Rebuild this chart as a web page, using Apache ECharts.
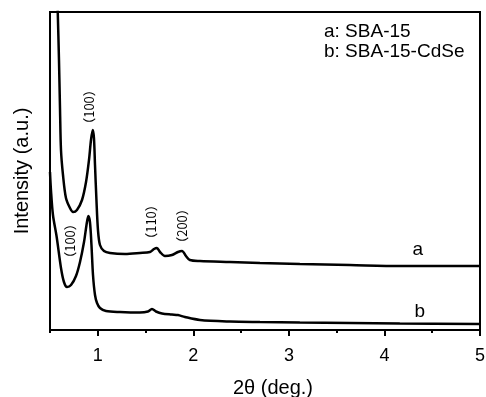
<!DOCTYPE html>
<html>
<head>
<meta charset="utf-8">
<script src="https://cdn.jsdelivr.net/npm/echarts@6/dist/echarts.min.js"></script>
<style>
  html, body {margin: 0; padding: 0; background: #fff;}
  #chart {width: 486px; height: 397px;}
</style>
</head>
<body>
<div id="chart"></div>
<script>
// 2theta (deg.) and intensity (a.u.)
const xA = [0.568, 0.581, 0.594, 0.605, 0.615, 0.636, 0.667, 0.709, 0.741, 0.782, 0.835, 0.877, 0.908, 0.929, 0.947, 0.960, 0.971, 0.986, 1.002, 1.023, 1.065, 1.128, 1.285, 1.441, 1.546, 1.588, 1.619, 1.651, 1.703, 1.776, 1.839, 1.881, 1.923, 1.964, 2.069, 2.383, 2.697, 3.115, 3.638, 4.161, 5.0];
const yA = [360, 318, 270, 220, 180, 155, 132, 122, 118, 120, 130, 148, 170, 190, 200, 192, 165, 130, 100, 85, 79, 77, 76, 77, 78, 81, 82, 78, 74, 75, 78, 79, 74, 70, 69, 68, 67, 66, 65, 64, 64];
const xB = [0.5, 0.510, 0.531, 0.570, 0.615, 0.646, 0.678, 0.720, 0.772, 0.814, 0.856, 0.882, 0.901, 0.918, 0.934, 0.950, 0.971, 0.992, 1.023, 1.086, 1.232, 1.441, 1.525, 1.567, 1.609, 1.672, 1.776, 1.839, 1.912, 2.069, 2.383, 2.697, 3.115, 3.638, 4.161, 5.0];
const yB = [158, 140, 115, 93, 62, 48, 43, 45, 54, 68, 88, 105, 114, 108, 85, 55, 35, 27, 22, 19, 18, 17.5, 18.5, 21, 18.5, 16.5, 15.5, 15, 13, 10, 8.5, 8, 7.5, 7, 6.5, 6];
const majorTicks = [1, 2, 3, 4, 5];
const peakLabels = ['（100）', '（100）', '（110）', '（200）'];
const peakPos = [[0.908, 223], [0.709, 89], [1.555, 108], [1.879, 104]];
const curveNames = ['a', 'b'];
const curvePos = [[4.35, 80], [4.37, 18]];
const legendLines = ['a: SBA-15', 'b: SBA-15-CdSe'];

const font = 'Liberation Sans, Arial, sans-serif';
const zip = (xs, ys) => xs.map((x, i) => [x, ys[i]]);

const chart = echarts.init(document.getElementById('chart'));
chart.setOption({
  animation: false,
  backgroundColor: '#fff',
  grid: {left: 50, right: 6, top: 12, bottom: 67, containLabel: false, outerBoundsMode: 'none',
    show: true, borderColor: '#000', borderWidth: 2},
  xAxis: [{
    type: 'value', min: 0.5, max: 5, interval: 0.5,
    axisLine: {lineStyle: {color: '#000', width: 2}},
    axisTick: {length: 3, lineStyle: {color: '#000', width: 2}},
    axisLabel: {show: false},
    splitLine: {show: false},
    name: '2θ (deg.)', nameLocation: 'middle', nameGap: 48,
    nameTextStyle: {fontFamily: font, fontSize: 20, color: '#000', padding: [0, 0, 0, 16]}
  }, {
    type: 'value', min: 0.5, max: 5, position: 'bottom',
    axisLine: {show: false},
    axisTick: {customValues: majorTicks, length: 6, lineStyle: {color: '#000', width: 2}},
    axisLabel: {customValues: majorTicks, margin: 17, fontFamily: font, fontSize: 18, color: '#000'},
    splitLine: {show: false}
  }],
  yAxis: {
    type: 'value', min: 0, max: 318,
    axisLine: {show: true, lineStyle: {color: '#000', width: 2}},
    axisTick: {show: false}, axisLabel: {show: false}, splitLine: {show: false},
    name: 'Intensity (a.u.)', nameLocation: 'middle', nameGap: 18,
    nameTextStyle: {fontFamily: font, fontSize: 20, color: '#000'}
  },
  series: [
    {type: 'line', data: zip(xA, yA), smooth: 0.3, symbol: 'none', clip: true,
     lineStyle: {color: '#000', width: 2.5}},
    {type: 'line', data: zip(xB, yB), smooth: 0.3, symbol: 'none', clip: true,
     lineStyle: {color: '#000', width: 2.5}}
  ]
});

// annotations placed at data coordinates
const texts = [];
peakLabels.forEach((t, i) => {
  const p = chart.convertToPixel({xAxisIndex: 0, yAxisIndex: 0}, peakPos[i]);
  texts.push({type: 'text', x: p[0], y: p[1], rotation: Math.PI / 2,
    style: {text: t, fontFamily: 'Noto Sans CJK SC', fontSize: 13, fill: '#000', align: 'center', verticalAlign: 'middle'}});
});
curveNames.forEach((t, i) => {
  const p = chart.convertToPixel({xAxisIndex: 0, yAxisIndex: 0}, curvePos[i]);
  texts.push({type: 'text', x: p[0], y: p[1],
    style: {text: t, fontFamily: font, fontSize: 19, fill: '#000', align: 'center', verticalAlign: 'middle'}});
});
legendLines.forEach((t, i) => {
  texts.push({type: 'text', left: 324, top: 22 + i * 20,
    style: {text: t, fontFamily: font, fontSize: 19, fill: '#000'}});
});
chart.setOption({graphic: texts});
</script>
</body>
</html>
